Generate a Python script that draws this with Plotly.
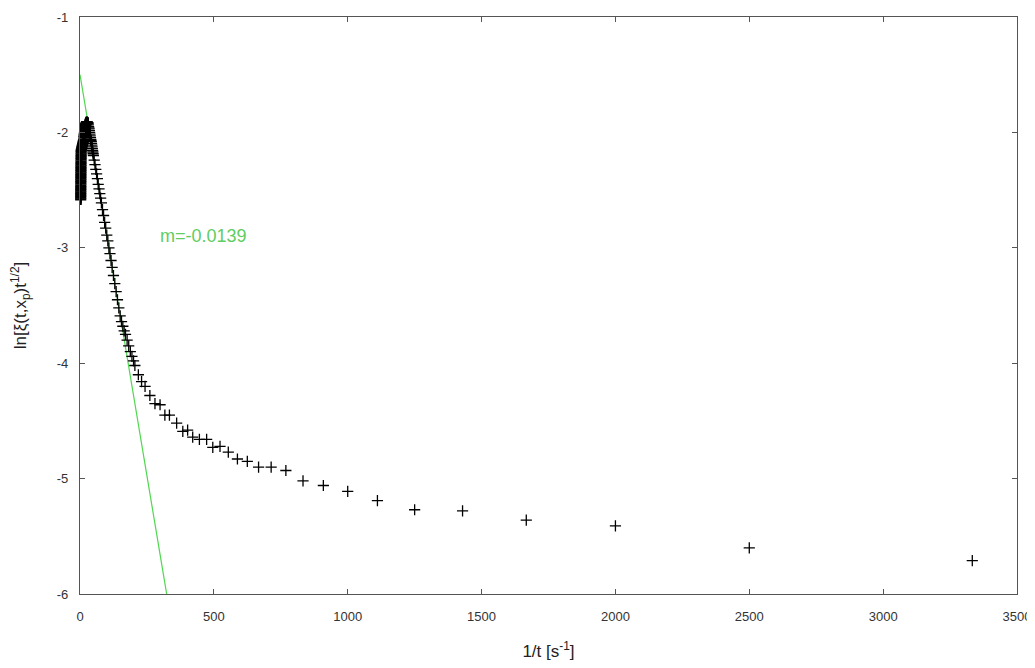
import plotly.graph_objects as go

# measured data: x = 1/t [s^-1], y = ln[xi(t,xp) t^(1/2)]
x_rise = [2.6, 2.65, 2.7, 2.75, 2.8, 2.85, 2.9, 2.95, 3.0, 3.05, 3.1, 3.15, 3.2, 3.25,
          3.3, 3.35, 3.4, 3.45, 3.5, 3.55, 3.6, 3.7, 3.8, 3.9, 4.0, 4.1, 4.2, 4.35, 4.5,
          5, 6, 7, 8, 9, 10, 11, 12, 13, 14,
          15, 15.5, 16, 16.5, 17, 17.5, 18, 18.5, 19, 19.5, 20, 20.5, 21, 21.5, 22,
          23, 24, 25, 26, 27, 28, 29]
y_rise = [-2.58, -2.565, -2.55, -2.535, -2.52, -2.505, -2.49, -2.475, -2.46, -2.445,
          -2.43, -2.415, -2.40, -2.385, -2.37, -2.355, -2.34, -2.325, -2.31, -2.295,
          -2.28, -2.265, -2.25, -2.235, -2.22, -2.205, -2.19, -2.175, -2.16,
          -2.15, -2.14, -2.13, -2.12, -2.11, -2.10, -2.09, -2.08, -2.07, -2.06,
          -2.04, -2.03, -2.02, -2.01, -2.00, -1.99, -1.98, -1.97, -1.96, -1.955, -1.95,
          -1.94, -1.935, -1.93, -1.925, -1.92, -1.915, -1.91, -1.91, -1.915, -1.92, -1.92]

x_fall = [30, 31, 32, 33, 34, 35, 36, 37, 38, 39, 40, 41, 42, 43, 44, 45, 46, 47, 48, 49,
          50, 53, 56, 59, 62, 65, 68, 71, 74, 77,
          80, 84, 88, 92, 96, 100, 104, 108, 112, 116, 120, 125, 130, 135, 140, 145, 150,
          155, 160, 165, 170, 176, 182, 188, 194, 200]
y_fall = [-1.92, -1.935, -1.95, -1.96, -1.97, -1.985, -2.00, -2.015, -2.03, -2.045,
          -2.06, -2.07, -2.08, -2.095, -2.11, -2.125, -2.14, -2.155, -2.17, -2.185,
          -2.20, -2.24, -2.28, -2.32, -2.36, -2.40, -2.45, -2.49, -2.53, -2.57,
          -2.61, -2.67, -2.72, -2.78, -2.83, -2.89, -2.94, -3.00, -3.05, -3.11, -3.17,
          -3.24, -3.31, -3.38, -3.45, -3.52, -3.59, -3.64, -3.68, -3.72, -3.75, -3.80,
          -3.85, -3.90, -3.94, -3.98]

x_tail = [205, 218, 230, 243, 261, 280, 299, 317, 334, 361, 384, 402, 421, 446, 473, 496,
          523, 554, 588, 625, 667, 714, 769, 833, 909, 1000, 1111, 1250, 1429, 1667,
          2000, 2500, 3333]
y_tail = [-4.02, -4.10, -4.16, -4.20, -4.28, -4.35, -4.36, -4.45, -4.45, -4.52, -4.59,
          -4.58, -4.64, -4.66, -4.66, -4.73, -4.72, -4.77, -4.83, -4.85, -4.90, -4.90,
          -4.93, -5.02, -5.06, -5.11, -5.19, -5.27, -5.28, -5.36, -5.41, -5.60, -5.71]

# fitted line
fit_x = [0, 400]
fit_y = [-1.50, -1.50 - 0.0139 * 400]
slope_label = "m=-0.0139"

x_ticks = [0, 500, 1000, 1500, 2000, 2500, 3000, 3500]
y_ticks = [-1, -2, -3, -4, -5, -6]

FONT = "Liberation Sans, Arial, sans-serif"

fig = go.Figure()
fig.add_trace(go.Scatter(
    x=fit_x, y=fit_y, mode="lines",
    line=dict(color="rgb(80,215,80)", width=1.2),
    showlegend=False, hoverinfo="skip"))
# dense early-time cluster (overlapping crosses render as solid black)
fig.add_trace(go.Scatter(
    x=x_rise, y=y_rise, mode="markers", cliponaxis=False,
    marker=dict(symbol="cross-thin", size=8, line=dict(color="black", width=2.2)),
    showlegend=False))
fig.add_trace(go.Scatter(
    x=x_fall + x_tail, y=y_fall + y_tail, mode="markers", cliponaxis=False,
    marker=dict(symbol="cross-thin", size=8, line=dict(color="black", width=1.3)),
    showlegend=False))

fig.add_annotation(x=463, y=-2.9, text=slope_label, showarrow=False,
                   font=dict(family=FONT, size=18, color="rgb(95,205,95)"))

axis_common = dict(showgrid=False, zeroline=False, showline=True, linecolor="#555555",
                   linewidth=1.2, mirror="ticks", ticks="inside", ticklen=5,
                   tickcolor="#555555", automargin=False,
                   tickfont=dict(family=FONT, size=13, color="#333333"))

fig.update_xaxes(range=[0, 3500], tickvals=x_ticks, ticktext=[str(v) for v in x_ticks],
                 ticklabelstandoff=10,
                 title=dict(text="1/t [s<sup>-1</sup>]", standoff=22,
                            font=dict(family=FONT, size=17, color="#222222")),
                 **axis_common)
fig.update_yaxes(range=[-6, -1], tickvals=y_ticks, ticktext=[str(v) for v in y_ticks],
                 ticklabelstandoff=8,
                 title=dict(text="ln[ξ(t,x<sub>p</sub>)t<sup>1/2</sup>]", standoff=30,
                            font=dict(family=FONT, size=17, color="#222222")),
                 **axis_common)

# the page body adds an 8px offset, so the figure is 8px smaller and margins shifted
fig.update_layout(width=1027, height=660, plot_bgcolor="white", paper_bgcolor="white",
                  margin=dict(l=72, r=18, t=9, b=74))

fig.write_html("out.html")
